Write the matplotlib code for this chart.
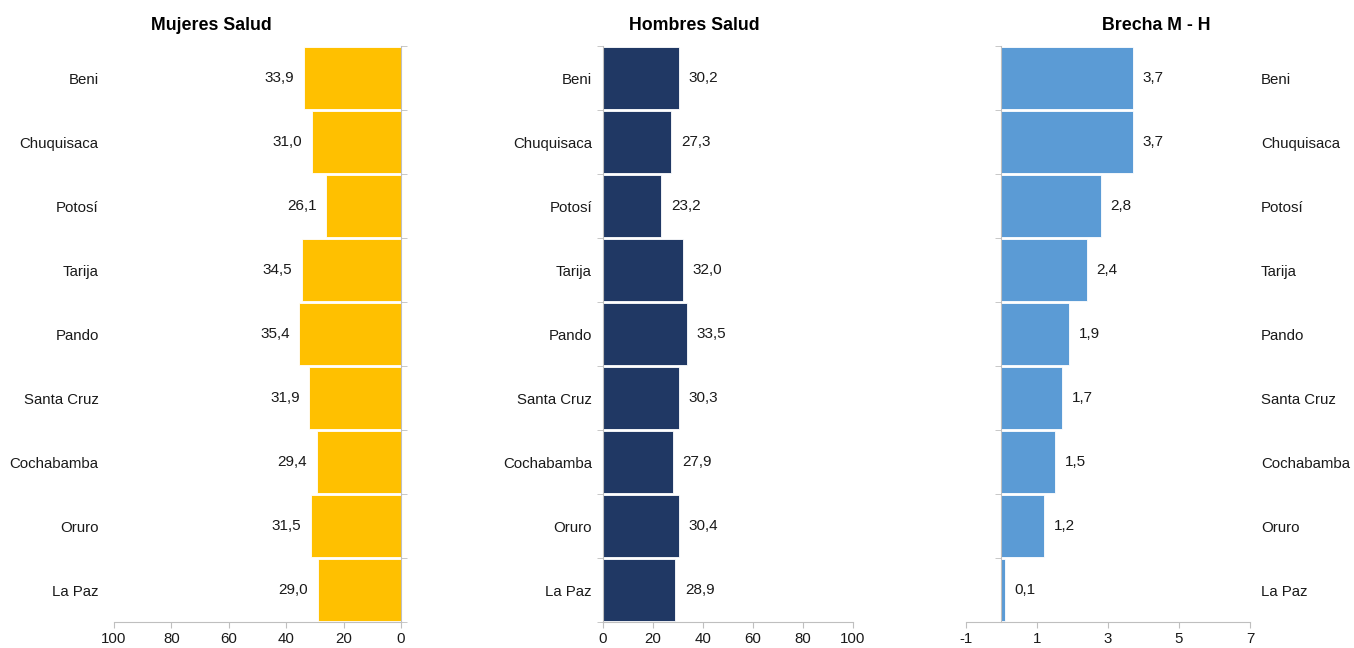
import matplotlib.pyplot as plt
import numpy as np

deptos = ["Beni", "Chuquisaca", "Potosí", "Tarija", "Pando",
          "Santa Cruz", "Cochabamba", "Oruro", "La Paz"]
mujeres = [33.9, 31.0, 26.1, 34.5, 35.4, 31.9, 29.4, 31.5, 29.0]
hombres = [30.2, 27.3, 23.2, 32.0, 33.5, 30.3, 27.9, 30.4, 28.9]
brecha = [3.7, 3.7, 2.8, 2.4, 1.9, 1.7, 1.5, 1.2, 0.1]

plt.rcParams['font.family'] = ['Liberation Sans', 'DejaVu Sans']
plt.rcParams['font.size'] = 10.8
plt.rcParams['axes.unicode_minus'] = False

GRAY = '#BFBFBF'
TXT = '#1a1a1a'


def fmt(v):
    return f"{v:.1f}".replace('.', ',')


def base_axes(ax):
    for s in ax.spines.values():
        s.set_visible(False)
    ax.spines['bottom'].set_visible(True)
    ax.spines['bottom'].set_color(GRAY)
    ax.tick_params(axis='x', colors=GRAY, labelcolor=TXT, length=4, labelsize=10.8)
    ax.set_ylim(len(deptos) - 0.5, -0.5)
    ax.set_yticks(np.arange(len(deptos)))
    ax.set_yticks(np.arange(len(deptos) + 1) - 0.5, minor=True)


def add_labels(ax, bars, vals):
    ax.bar_label(bars, labels=[fmt(v) for v in vals], padding=7, fontsize=11, color=TXT)


fig = plt.figure(figsize=(13.54, 6.48), dpi=100)
y = np.arange(len(deptos))

# Mujeres
ax1 = fig.add_axes([0.0842, 0.040, 0.212, 0.889])
b1 = ax1.barh(y, mujeres, height=0.96, color='#FFC000', edgecolor='white', linewidth=0.6)
base_axes(ax1)
ax1.set_xlim(100, 0)
ax1.set_xticks([100, 80, 60, 40, 20, 0])
ax1.spines['right'].set_visible(True)
ax1.spines['right'].set_color(GRAY)
ax1.set_yticklabels(deptos)
ax1.tick_params(axis='y', which='major', length=0, pad=11, labelcolor=TXT)
ax1.tick_params(axis='y', which='minor', left=False, right=True, length=4, color=GRAY)
add_labels(ax1, b1, mujeres)

# Hombres
ax2 = fig.add_axes([0.4454, 0.040, 0.1846, 0.889])
b2 = ax2.barh(y, hombres, height=0.96, color='#203864', edgecolor='white', linewidth=0.6)
base_axes(ax2)
ax2.set_xlim(0, 100)
ax2.set_xticks([0, 20, 40, 60, 80, 100])
ax2.spines['left'].set_visible(True)
ax2.spines['left'].set_color(GRAY)
ax2.set_yticklabels(deptos)
ax2.tick_params(axis='y', which='major', length=0, pad=8, labelcolor=TXT)
ax2.tick_params(axis='y', which='minor', left=True, length=4, color=GRAY)
add_labels(ax2, b2, hombres)

# Brecha
ax3 = fig.add_axes([0.7134, 0.040, 0.2098, 0.889])
b3 = ax3.barh(y, brecha, height=0.96, color='#5B9BD5', edgecolor='white', linewidth=0.6)
base_axes(ax3)
ax3.set_xlim(-1, 7)
ax3.set_xticks([-1, 1, 3, 5, 7])
ax3.spines['left'].set_visible(True)
ax3.spines['left'].set_color(GRAY)
ax3.spines['left'].set_position(('data', 0))
ax3.set_yticklabels(deptos)
ax3.tick_params(axis='y', which='major', left=False, right=False, labelleft=False,
                labelright=True, length=0, pad=8, labelcolor=TXT)
ax3.tick_params(axis='y', which='minor', left=True, right=False, length=4, color=GRAY)
add_labels(ax3, b3, brecha)

# titles, placed like the original (not centred on the axes)
for xc, t in [(211, "Mujeres Salud"), (694, "Hombres Salud"), (1156, "Brecha M - H")]:
    fig.text(xc / 1354, 1 - 25 / 648, t, ha='center', va='center',
             fontsize=12.8, fontweight='bold', color='black')

fig.savefig("out.png", dpi=100)
